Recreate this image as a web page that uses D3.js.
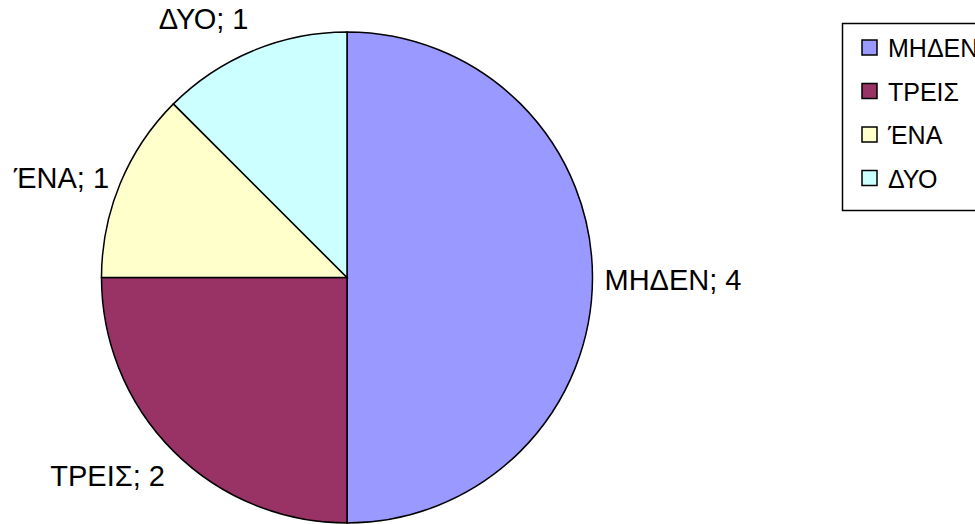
<!DOCTYPE html>
<html>
<head>
<meta charset="utf-8">
<script src="https://cdn.jsdelivr.net/npm/d3@7"></script>
<style>
  body { margin: 0; background: #fff; }
  svg { display: block; font-family: "Liberation Sans", Arial, sans-serif; }
</style>
</head>
<body>
<div id="chart"></div>
<script>
// data
const categories = ["ΜΗΔΕΝ", "ΤΡΕΙΣ", "ΈΝΑ", "ΔΥΟ"]
const values = [4, 2, 1, 1]
const colors = ["#9999FF", "#993366", "#FFFFCC", "#CCFFFF"]

const width = 975, height = 524
const cx = 347, cy = 277.5, r = 245.5

const svg = d3.select("#chart").append("svg")
    .attr("width", width)
    .attr("height", height)

const rows = categories.map((c, i) => ({name: c, value: values[i], color: colors[i]}))

const pie = d3.pie().sort(null).value(d => d.value)
const arc = d3.arc().innerRadius(0).outerRadius(r)
const arcs = pie(rows)

const g = svg.append("g").attr("transform", `translate(${cx},${cy})`)

g.selectAll("path")
    .data(arcs)
    .join("path")
    .attr("d", arc)
    .attr("fill", d => d.data.color)
    .attr("stroke", "#000")
    .attr("stroke-width", 1.5)

// labels just outside the rim (Excel style)
const labelFont = 29
g.selectAll("text.lbl")
    .data(arcs)
    .join("text")
    .attr("class", "lbl")
    .each(function(d) {
        const a = (d.startAngle + d.endAngle) / 2
        const s = Math.sin(a), c = Math.cos(a)
        const x = s * (r + 12)
        const y = -c * (r + 12) - c * Math.abs(c) * 27 + 2.5
        d3.select(this)
            .attr("x", x)
            .attr("y", y)
            .attr("text-anchor", s > 0.01 ? "start" : (s < -0.01 ? "end" : "middle"))
            .attr("dominant-baseline", "central")
    })
    .attr("font-size", labelFont)
    .attr("fill", "#000")
    .text(d => d.data.name + "; " + d.data.value)

// legend
const legend = svg.append("g").attr("transform", "translate(842,23)")
legend.append("rect")
    .attr("x", 0.5).attr("y", 0.5)
    .attr("width", 200).attr("height", 187)
    .attr("fill", "#fff")
    .attr("stroke", "#000")
    .attr("stroke-width", 1.5)

const item = legend.selectAll("g.item")
    .data(rows)
    .join("g")
    .attr("class", "item")
    .attr("transform", (d, i) => `translate(20,${25 + i * 43.5})`)

item.append("rect")
    .attr("x", 0).attr("y", -8)
    .attr("width", 15).attr("height", 15)
    .attr("fill", d => d.color)
    .attr("stroke", "#000")
    .attr("stroke-width", 1.5)

item.append("text")
    .attr("x", 26)
    .attr("y", 0)
    .attr("dominant-baseline", "central")
    .attr("font-size", 25)
    .text(d => d.name)
</script>
</body>
</html>
